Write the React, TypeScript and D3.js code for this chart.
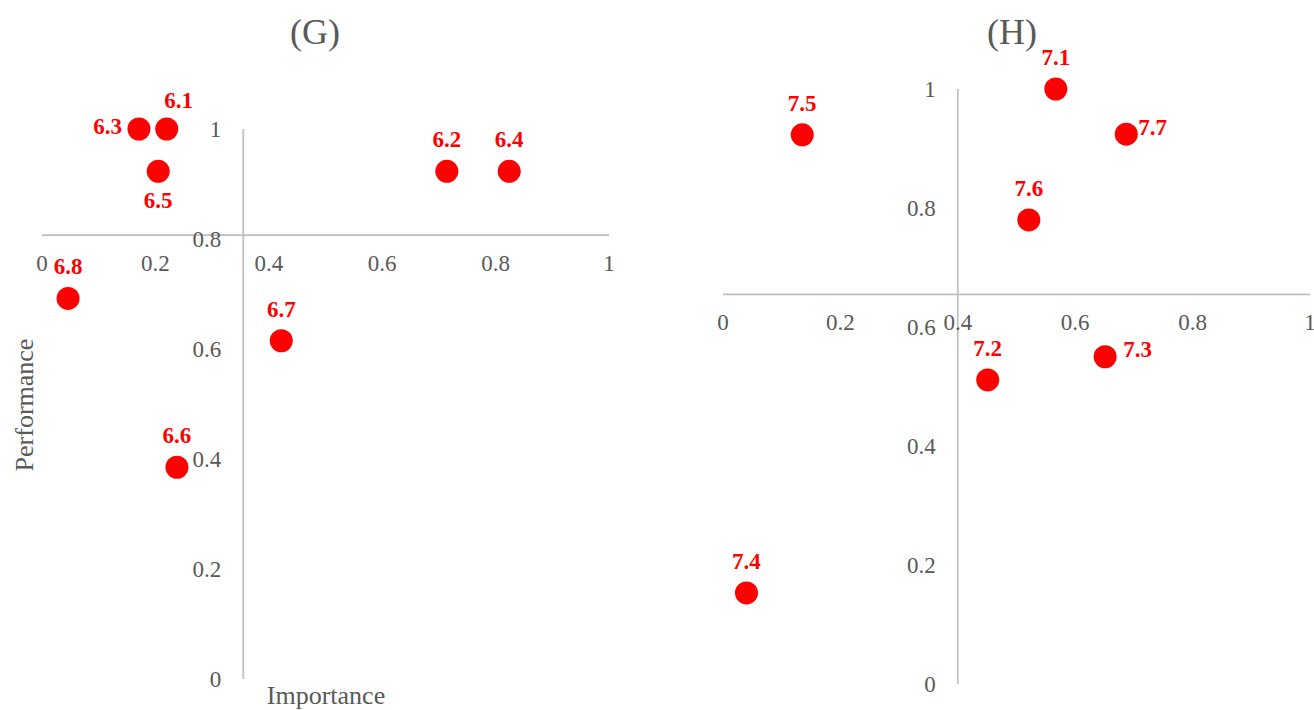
import React from 'react';
import * as d3 from 'd3';

// panel G
const gLabels = ['6.1', '6.2', '6.3', '6.4', '6.5', '6.6', '6.7', '6.8'];
const gImportance = [0.22, 0.714, 0.171, 0.824, 0.205, 0.238, 0.422, 0.046];
const gPerformance = [1.0, 0.923, 1.0, 0.923, 0.923, 0.385, 0.615, 0.692];
const gCross = [0.355, 0.807]; // where the axes cross (importance, performance)

// panel H
const hLabels = ['7.1', '7.2', '7.3', '7.4', '7.5', '7.6', '7.7'];
const hImportance = [0.567, 0.451, 0.651, 0.04, 0.135, 0.521, 0.687];
const hPerformance = [1.0, 0.511, 0.55, 0.153, 0.923, 0.78, 0.924];
const hCross = [0.4, 0.655];

const tickValues = [0, 0.2, 0.4, 0.6, 0.8, 1];
const tickLabels = ['0', '0.2', '0.4', '0.6', '0.8', '1'];

// label placement, offsets from the dot centre
const placement: Record<string, { dx: number; dy: number; anchor: string }> = {
  '6.1': { dx: 12, dy: -21, anchor: 'middle' },
  '6.3': { dx: -17, dy: 5, anchor: 'end' },
  '6.5': { dx: 0, dy: 37, anchor: 'middle' },
  '7.3': { dx: 18, dy: 0, anchor: 'start' },
  '7.7': { dx: 12, dy: 1, anchor: 'start' },
};
const above = { dx: 0, dy: -24, anchor: 'middle' };

const FONT = '"Liberation Serif", "Times New Roman", serif';
const GREY_TEXT = '#595959';
const AXIS = '#bfbfbf';

type PanelProps = {
  labels: string[];
  xs: number[];
  ys: number[];
  cross: number[];
  xRange: [number, number];
  yRange: [number, number];
};

const Panel = ({ labels, xs, ys, cross, xRange, yRange }: PanelProps) => {
  const x = d3.scaleLinear().domain([0, 1]).range(xRange);
  const y = d3.scaleLinear().domain([0, 1]).range(yRange);
  const ax = x(cross[0]);
  const ay = y(cross[1]);

  return (
    <g>
      <line x1={xRange[0]} x2={xRange[1]} y1={ay} y2={ay} stroke={AXIS} strokeWidth={1.75} />
      <line x1={ax} x2={ax} y1={yRange[0]} y2={yRange[1]} stroke={AXIS} strokeWidth={1.75} />

      {tickValues.map((t, i) => (
        <text key={'x' + i} x={x(t)} y={ay + 36} textAnchor="middle"
          fontSize={23} fill={GREY_TEXT} fontFamily={FONT}>{tickLabels[i]}</text>
      ))}
      {tickValues.map((t, i) => (
        <text key={'y' + i} x={ax - 22} y={y(t) + 8} textAnchor="end"
          fontSize={23} fill={GREY_TEXT} fontFamily={FONT}>{tickLabels[i]}</text>
      ))}

      {labels.map((lab, i) => {
        const p = placement[lab] || above;
        const cx = x(xs[i]);
        const cy = y(ys[i]);
        return (
          <g key={lab}>
            <circle cx={cx} cy={cy} r={11.5} fill="#ff0000" />
            <text x={cx + p.dx} y={cy + p.dy} textAnchor={p.anchor as any}
              fontSize={23} fontWeight="bold" fill="#ff0000" fontFamily={FONT}>{lab}</text>
          </g>
        );
      })}
    </g>
  );
};

export default function App() {
  return (
    <div style={{ position: 'absolute', left: 0, top: 0 }}>
      <svg width={1314} height={710} style={{ display: 'block', background: '#fff' }}>
        <text x={315} y={44} textAnchor="middle" fontSize={36} fill={GREY_TEXT} fontFamily={FONT}>(G)</text>
        <text x={1012} y={44} textAnchor="middle" fontSize={36} fill={GREY_TEXT} fontFamily={FONT}>(H)</text>

        <Panel labels={gLabels} xs={gImportance} ys={gPerformance} cross={gCross}
          xRange={[42, 609]} yRange={[679, 129]} />
        <Panel labels={hLabels} xs={hImportance} ys={hPerformance} cross={hCross}
          xRange={[723, 1310]} yRange={[684, 89]} />

        <text transform="translate(33,405) rotate(-90)" textAnchor="middle"
          fontSize={26} fill={GREY_TEXT} fontFamily={FONT}>Performance</text>
        <text x={326} y={704} textAnchor="middle" fontSize={26} fill={GREY_TEXT} fontFamily={FONT}>Importance</text>
      </svg>
    </div>
  );
}
